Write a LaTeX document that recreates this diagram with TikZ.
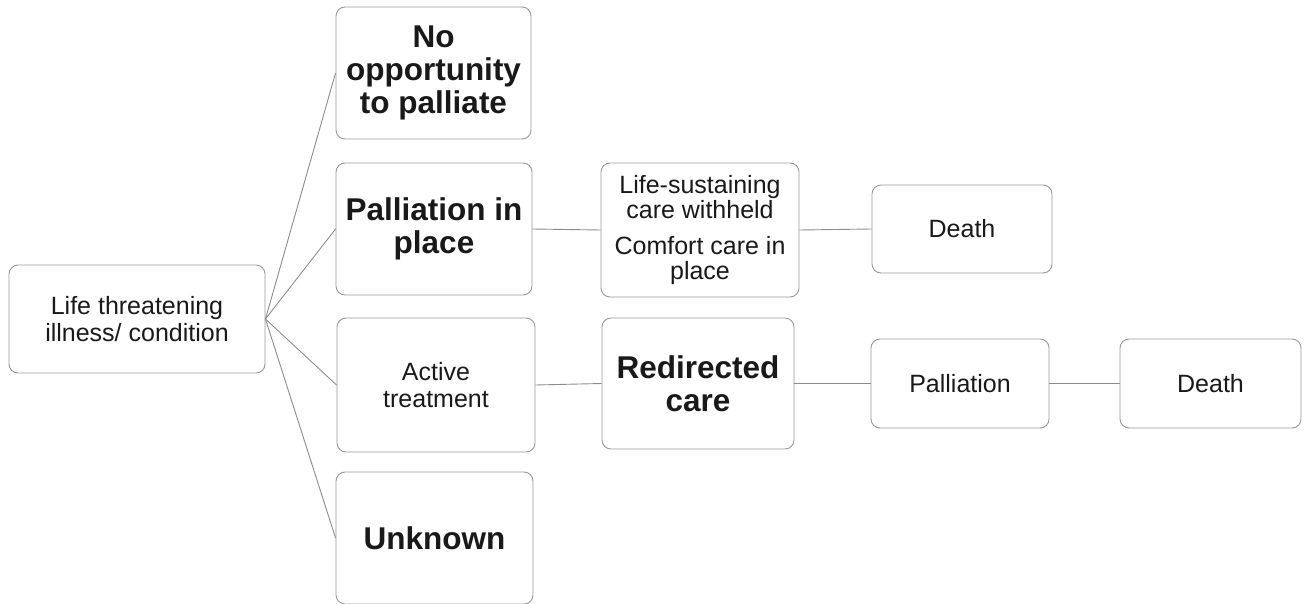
\documentclass[tikz,border=0pt]{standalone}
\usepackage{fontspec}
\setmainfont{Liberation Sans}
\begin{document}
\begin{tikzpicture}[x=1pt,y=-1pt,
  box/.style={draw=gray!80, line width=0.9pt, rounded corners=9pt, fill=white,
    align=center, inner sep=0pt, font=\fontsize{25}{27}\selectfont, text=black!90},
  bbox/.style={box, font=\fontsize{31.5}{33}\selectfont\bfseries},
  link/.style={draw=gray!90, line width=0.9pt}]
\useasboundingbox (0,0) rectangle (1305,604);
\node[box, minimum width=256pt, minimum height=108pt] (lti) at (137,319) {Life threatening\\illness/ condition};
\node[bbox, minimum width=195pt, minimum height=132pt] (noopp) at (433.5,73) {No\\opportunity\\to palliate};
\node[bbox, minimum width=196pt, minimum height=132pt] (pip) at (434,229) {Palliation in\\place};
\node[box, minimum width=198pt, minimum height=134pt] (act) at (436,385) {Active\\treatment};
\node[bbox, minimum width=197pt, minimum height=132pt] (unk) at (434.5,538) {Unknown};
\node[box, minimum width=198pt, minimum height=134pt, font=\fontsize{25}{25.5}\selectfont] (lsc) at (700,230) {Life-sustaining\\care withheld\\[10pt]Comfort care in\\place};
\node[box, minimum width=180pt, minimum height=88pt] (d1) at (962,229) {Death};
\node[bbox, minimum width=192pt, minimum height=131pt] (red) at (698,383.5) {Redirected\\care};
\node[box, minimum width=178pt, minimum height=89pt] (pal) at (960,383.5) {Palliation};
\node[box, minimum width=181pt, minimum height=89pt] (d2) at (1210.5,383.5) {Death};
\foreach \t in {noopp,pip,act,unk}{\draw[link] (lti.east) -- (\t.west);}
\draw[link] (pip.east) -- (lsc.west);
\draw[link] (lsc.east) -- (d1.west);
\draw[link] (act.east) -- (red.west);
\draw[link] (red.east) -- (pal.west);
\draw[link] (pal.east) -- (d2.west);
\end{tikzpicture}
\end{document}
